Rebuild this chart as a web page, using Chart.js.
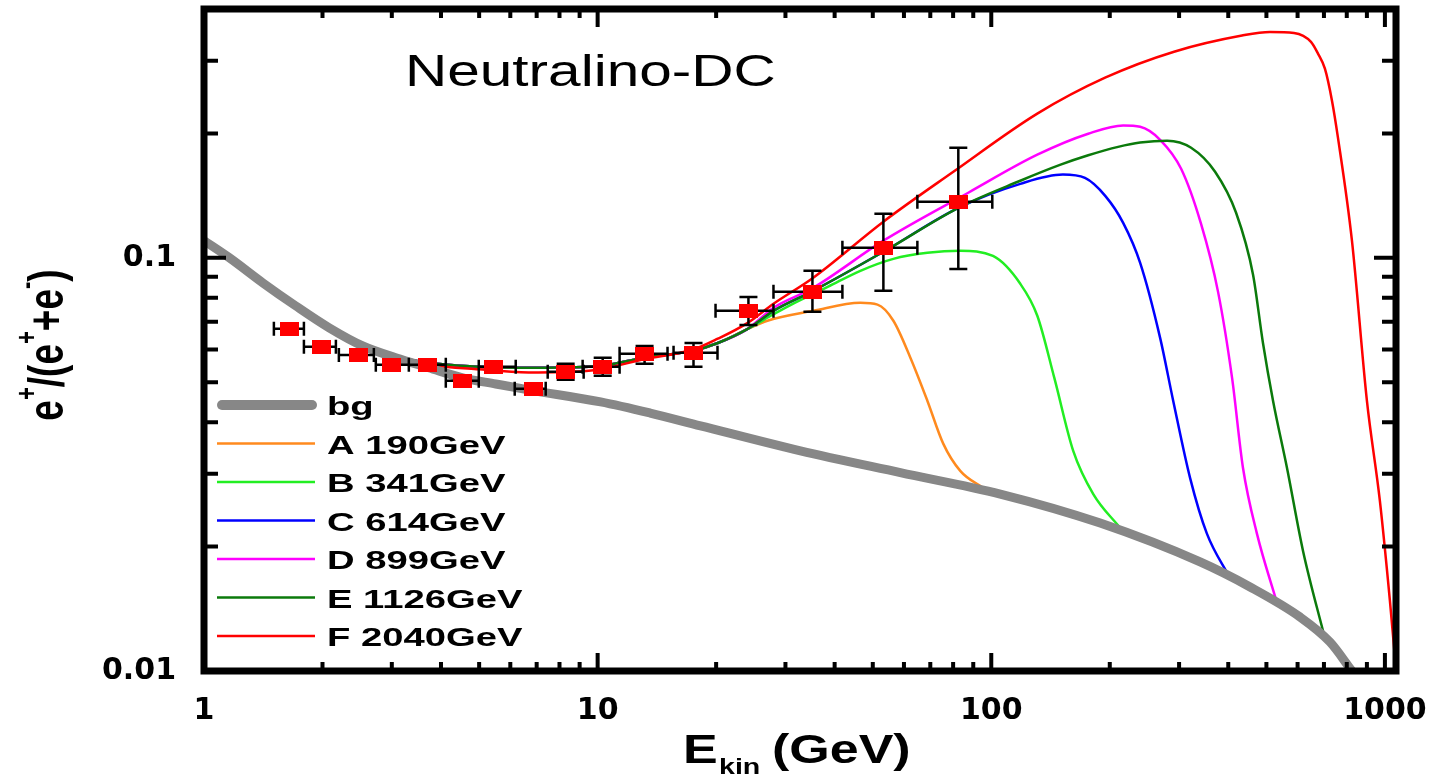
<!DOCTYPE html>
<html>
<head>
<meta charset="utf-8">
<title>Neutralino-DC</title>
<script src="https://cdn.jsdelivr.net/npm/chart.js@4.4.1/dist/chart.umd.min.js"></script>
<style>
  html, body { margin: 0; padding: 0; background: #fff; overflow: hidden; }
  #wrap { width: 1437px; height: 776px; position: relative; }
</style>
</head>
<body>
<div id="wrap"><canvas id="canvasFrac"></canvas></div>
<script>
// tick labels
var xTicks = [1, 10, 100, 1000];
var yTicks = [0.01, 0.1];

// background (E in GeV, ratio)
var bgE = [1, 1.16, 1.41, 1.71, 2.08, 2.53, 3.07, 3.72, 4.54, 5.51, 6.68, 10.18, 13.6, 18.26, 32.75, 58.75, 105.4, 189.1, 339.3, 454.4, 608.6, 725.2, 824.8, 916];
var bgR = [0.110, 0.100, 0.0870, 0.0765, 0.0677, 0.0612, 0.0573, 0.0542, 0.0512, 0.0495, 0.0479, 0.0448, 0.0421, 0.0392, 0.0341, 0.0302, 0.0268, 0.0228, 0.01836, 0.01597, 0.01351, 0.01175, 0.0100, 0.0088];

// low energy part shared by all signal curves
var lowE = [1, 1.16, 1.41, 1.71, 2.08, 2.53, 2.85];
var lowR = [0.110, 0.100, 0.0870, 0.0765, 0.0677, 0.0613, 0.0588];
var midE = [3.72, 4.99, 6.68, 9.49, 10.36, 13.08, 17.5, 20.2, 24.0];
var midR = [0.0557, 0.0545, 0.0542, 0.0545, 0.0548, 0.0573, 0.0596, 0.0622, 0.0672];

// A 190GeV
var aE = [27.0, 35.3, 46.5, 51.4, 56.4, 62.3, 68.8, 75.5, 83.4, 95.5];
var aR = [0.0704, 0.0744, 0.0778, 0.0770, 0.0704, 0.0573, 0.0451, 0.0355, 0.0305, 0.0277];
// B 341GeV
var bE = [27.97, 31.4, 38.4, 46.5, 56.4, 68.8, 83.4, 101, 118.5, 130.9, 144.6, 161.5, 181.6, 212.5];
var bR = [0.0730, 0.0775, 0.0850, 0.0930, 0.0994, 0.1028, 0.104, 0.101, 0.0865, 0.0724, 0.0512, 0.0341, 0.0268, 0.0222];
// C 614GeV
var cE = [27.97, 35.3, 53.2, 82.5, 118.5, 152, 173, 195, 216.3, 238.9, 268.5, 289.8, 320, 353, 404];
var cR = [0.0744, 0.0832, 0.1034, 0.1321, 0.151, 0.159, 0.156, 0.141, 0.1215, 0.0972, 0.064, 0.0451, 0.0293, 0.0215, 0.0168];
// D 899GeV
var dE = [27.97, 35.3, 53.2, 87.4, 130.9, 176.3, 216.3, 238.9, 268.5, 303.6, 341, 376.8, 409, 436, 473, 532];
var dR = [0.0757, 0.0846, 0.110, 0.1437, 0.1776, 0.1996, 0.209, 0.2075, 0.193, 0.1642, 0.1209, 0.0827, 0.0512, 0.031, 0.0215, 0.0146];
// E 1126GeV
var eE = [27.97, 35.3, 53.2, 82.5, 118.5, 150, 176.3, 210, 238.9, 279.7, 321.9, 370.3, 418.7, 462.4, 490, 519.7, 564, 619.6, 704];
var eR = [0.0744, 0.0832, 0.1034, 0.1321, 0.1536, 0.168, 0.177, 0.1855, 0.19, 0.192, 0.1846, 0.1615, 0.1285, 0.091, 0.0622, 0.0451, 0.031, 0.0195, 0.0120];
// F 2040GeV (own middle part, slightly lower below 12 GeV)
var fE = [3.72, 4.99, 6.68, 9.49, 10.36, 13.08, 17.5, 20.2, 24.0, 27.97, 35.3, 53.2, 80.1, 130.9, 194.6, 291.3, 433.5, 510.6, 587.5, 648.9, 676, 704, 733.7, 759.8, 824.6, 900, 971, 1029.6, 1067];
var fR = [0.0552, 0.0537, 0.0528, 0.0533, 0.0539, 0.0568, 0.0600, 0.0637, 0.0695, 0.0774, 0.0895, 0.1223, 0.1615, 0.2233, 0.2728, 0.3153, 0.345, 0.352, 0.350, 0.333, 0.312, 0.2868, 0.240, 0.1953, 0.110, 0.0451, 0.0258, 0.0148, 0.0101];

// measured points with error bars
var ptE   = [1.653, 1.993, 2.474, 3.0, 3.703, 4.544, 5.445, 6.88, 8.295, 10.3, 13.16, 17.52, 24.16, 35.13, 53.2, 82.46];
var ptR   = [0.0673, 0.0609, 0.0582, 0.0551, 0.0551, 0.0504, 0.0545, 0.0482, 0.053, 0.0545, 0.0586, 0.0589, 0.0744, 0.0827, 0.1057, 0.1367];
var ptElo = [1.505, 1.794, 2.201, 2.732, 3.314, 4.114, 4.989, 6.157, 7.467, 9.16, 11.37, 15.59, 19.93, 27.97, 41.86, 64.9];
var ptEhi = [1.794, 2.163, 2.701, 3.314, 4.114, 4.989, 6.193, 7.38, 9.215, 11.37, 15.05, 20.16, 27.97, 41.86, 64.9, 100.6];
var ptRlo = [0.0673, 0.0609, 0.0582, 0.0551, 0.0551, 0.0504, 0.0545, 0.0482, 0.0507, 0.0518, 0.0554, 0.0545, 0.0688, 0.074, 0.0832, 0.094];
var ptRhi = [0.0673, 0.0609, 0.0582, 0.0551, 0.0551, 0.0504, 0.0545, 0.0482, 0.0554, 0.0573, 0.0612, 0.0622, 0.0804, 0.093, 0.1278, 0.1846];

function pts(e, r) {
  return e.map(function (v, i) { return { x: v, y: r[i] }; });
}

// red rectangle marker
var marker = document.createElement('canvas');
marker.width = 19; marker.height = 14;
var mctx = marker.getContext('2d');
mctx.fillStyle = '#ff0000';
mctx.fillRect(0, 0, 19, 14);

function lineSet(label, e, r, color, ord) {
  return {
    label: label, data: pts(e, r), borderColor: color, backgroundColor: color,
    borderWidth: 2.5, pointRadius: 0, fill: false, cubicInterpolationMode: 'monotone', order: ord
  };
}

function noPad(s) {
  s.paddingTop = 0; s.paddingBottom = 0; s.paddingLeft = 0; s.paddingRight = 0;
}

// error bars, frame, ticks, legend, texts
var decor = {
  id: 'decor',
  beforeDatasetDraw: function (chart, args) {
    if (args.index !== 0) return;
    var xs = chart.scales.x, ys = chart.scales.y, c = chart.ctx;
    c.save();
    c.strokeStyle = '#000';
    c.lineWidth = 2.5;
    c.beginPath();
    for (var i = 0; i < ptE.length; i++) {
      var px = xs.getPixelForValue(ptE[i]), py = ys.getPixelForValue(ptR[i]);
      var x0 = xs.getPixelForValue(ptElo[i]), x1 = xs.getPixelForValue(ptEhi[i]);
      c.moveTo(x0, py); c.lineTo(x1, py);
      c.moveTo(x0, py - 7); c.lineTo(x0, py + 7);
      c.moveTo(x1, py - 7); c.lineTo(x1, py + 7);
      if (ptRhi[i] > ptRlo[i]) {
        var y0 = ys.getPixelForValue(ptRhi[i]), y1 = ys.getPixelForValue(ptRlo[i]);
        c.moveTo(px, y0); c.lineTo(px, y1);
        c.moveTo(px - 9, y0); c.lineTo(px + 9, y0);
        c.moveTo(px - 9, y1); c.lineTo(px + 9, y1);
      }
    }
    c.stroke();
    c.restore();
  },
  afterDraw: function (chart) {
    var c = chart.ctx, a = chart.chartArea, xs = chart.scales.x, ys = chart.scales.y;
    c.save();
    // ticks
    c.strokeStyle = '#000';
    c.lineWidth = 4;
    c.beginPath();
    var k, m, v, p, len;
    for (k = 0; k <= 3; k++) {
      for (m = 1; m <= 9; m++) {
        v = m * Math.pow(10, k);
        if (v > xs.max) continue;
        p = xs.getPixelForValue(v);
        len = m === 1 ? 18 : 9;
        c.moveTo(p, a.bottom); c.lineTo(p, a.bottom - len);
        c.moveTo(p, a.top); c.lineTo(p, a.top + len);
      }
    }
    for (k = -2; k <= -1; k++) {
      for (m = 1; m <= 9; m++) {
        v = m * Math.pow(10, k);
        if (v > ys.max + 1e-9) continue;
        p = ys.getPixelForValue(v);
        len = m === 1 ? 22 : 14;
        c.moveTo(a.left, p); c.lineTo(a.left + len, p);
        c.moveTo(a.right, p); c.lineTo(a.right - len, p);
      }
    }
    c.stroke();
    // frame
    c.lineWidth = 7;
    c.strokeRect(a.left, a.top, a.right - a.left, a.bottom - a.top);

    // legend
    var ds = chart.data.datasets;
    var order = [1, 7, 6, 5, 4, 3, 2];
    for (var i = 0; i < order.length; i++) {
      var d = ds[order[i]];
      var ry = 405 + i * 38.5;
      c.strokeStyle = d.borderColor;
      c.lineWidth = i === 0 ? 10 : 2.5;
      c.lineCap = i === 0 ? 'round' : 'butt';
      c.beginPath();
      c.moveTo(i === 0 ? 222 : 217, ry); c.lineTo(i === 0 ? 312 : 315, ry);
      c.stroke();
      c.save();
      c.translate(327, ry + 10);
      c.scale(1.47, 1);
      c.fillStyle = '#000';
      c.font = 'bold 26px "Liberation Sans", Arial, sans-serif';
      c.textAlign = 'left';
      c.textBaseline = 'alphabetic';
      c.fillText(d.label, 0, 0);
      c.restore();
    }

    // title
    c.save();
    c.translate(405, 86);
    c.scale(1.33, 1);
    c.fillStyle = '#000';
    c.font = '44px "Liberation Sans", Arial, sans-serif';
    c.textBaseline = 'alphabetic';
    c.fillText('Neutralino-DC', 0, 0);
    c.restore();

    // x axis title
    c.save();
    c.fillStyle = '#000';
    c.textBaseline = 'alphabetic';
    c.translate(683, 763);
    c.scale(1.3, 1);
    c.font = 'bold 40px "Liberation Sans", Arial, sans-serif';
    c.fillText('E', 0, 0);
    var wE = c.measureText('E').width;
    c.font = 'bold 22px "Liberation Sans", Arial, sans-serif';
    c.fillText('kin', wE + 1, 11);
    var wk = c.measureText('kin').width;
    c.font = 'bold 40px "Liberation Sans", Arial, sans-serif';
    c.fillText('(GeV)', wE + wk + 10, 0);
    c.restore();

    // y axis title with superscripts
    var parts = [
      ['e', 0], ['+', 1], ['/', 0], ['(', 0], ['e', 0], ['+', 1], ['+', 0], ['e', 0], ['-', 1], [')', 0]
    ];
    c.save();
    c.fillStyle = '#000';
    c.textBaseline = 'alphabetic';
    var big = 'bold 37px "Liberation Sans", Arial, sans-serif';
    var small = 'bold 22px "Liberation Sans", Arial, sans-serif';
    var total = 0, j;
    for (j = 0; j < parts.length; j++) {
      c.font = parts[j][1] ? small : big;
      total += c.measureText(parts[j][0]).width;
    }
    c.translate(63, 345);
    c.rotate(-Math.PI / 2);
    c.scale(1, 1.35);
    var tx = -total / 2;
    for (j = 0; j < parts.length; j++) {
      c.font = parts[j][1] ? small : big;
      c.fillText(parts[j][0], tx, parts[j][1] ? -20 : 0);
      tx += c.measureText(parts[j][0]).width;
    }
    c.restore();
    c.restore();
  }
};

var ctx = document.getElementById('canvasFrac').getContext('2d');
var fracChart = new Chart(ctx, {
  type: 'line',
  data: {
    datasets: [
      {
        type: 'scatter', label: 'data', data: pts(ptE, ptR), showLine: false,
        pointStyle: marker, pointRadius: 9, backgroundColor: '#ff0000', borderWidth: 0, order: 0
      },
      {
        label: 'bg', data: pts(bgE, bgR), borderColor: '#878787', backgroundColor: '#878787',
        borderWidth: 9, pointRadius: 0, fill: false, cubicInterpolationMode: 'monotone', order: 1
      },
      lineSet('F 2040GeV', lowE.concat(fE), lowR.concat(fR), '#ff0000', 2),
      lineSet('E 1126GeV', lowE.concat(midE, eE), lowR.concat(midR, eR), '#0b7a0b', 3),
      lineSet('D 899GeV', lowE.concat(midE, dE), lowR.concat(midR, dR), '#ff00ff', 4),
      lineSet('C 614GeV', lowE.concat(midE, cE), lowR.concat(midR, cR), '#0000ff', 5),
      lineSet('B 341GeV', lowE.concat(midE, bE), lowR.concat(midR, bR), '#22ee22', 6),
      lineSet('A 190GeV', lowE.concat(midE, aE), lowR.concat(midR, aR), '#ff8a1e', 7)
    ]
  },
  options: {
    responsive: true,
    maintainAspectRatio: false,
    animation: false,
    layout: { padding: { top: 9, right: 41, left: 0, bottom: 0 } },
    plugins: { legend: { display: false }, tooltip: { enabled: false } },
    scales: {
      x: {
        type: 'logarithmic', min: 1, max: 1067,
        grid: { display: false, drawTicks: false },
        border: { display: false },
        afterBuildTicks: function (s) { s.ticks = xTicks.map(function (v) { return { value: v }; }); },
        afterFit: function (s) { s.height = 105; noPad(s); },
        ticks: {
          autoSkip: false, maxRotation: 0, padding: 22, color: '#000',
          font: { family: 'DejaVu Sans', weight: 'bold', size: 30 },
          callback: function (v) { return String(v); }
        }
      },
      y: {
        type: 'logarithmic', min: 0.01, max: 0.4,
        grid: { display: false, drawTicks: false },
        border: { display: false },
        afterBuildTicks: function (s) { s.ticks = yTicks.map(function (v) { return { value: v }; }); },
        afterFit: function (s) { s.width = 204; noPad(s); },
        ticks: {
          autoSkip: false, padding: 28, color: '#000',
          font: { family: 'DejaVu Sans', weight: 'bold', size: 30 },
          callback: function (v) { return String(v); }
        }
      }
    }
  },
  plugins: [decor]
});
</script>
</body>
</html>
